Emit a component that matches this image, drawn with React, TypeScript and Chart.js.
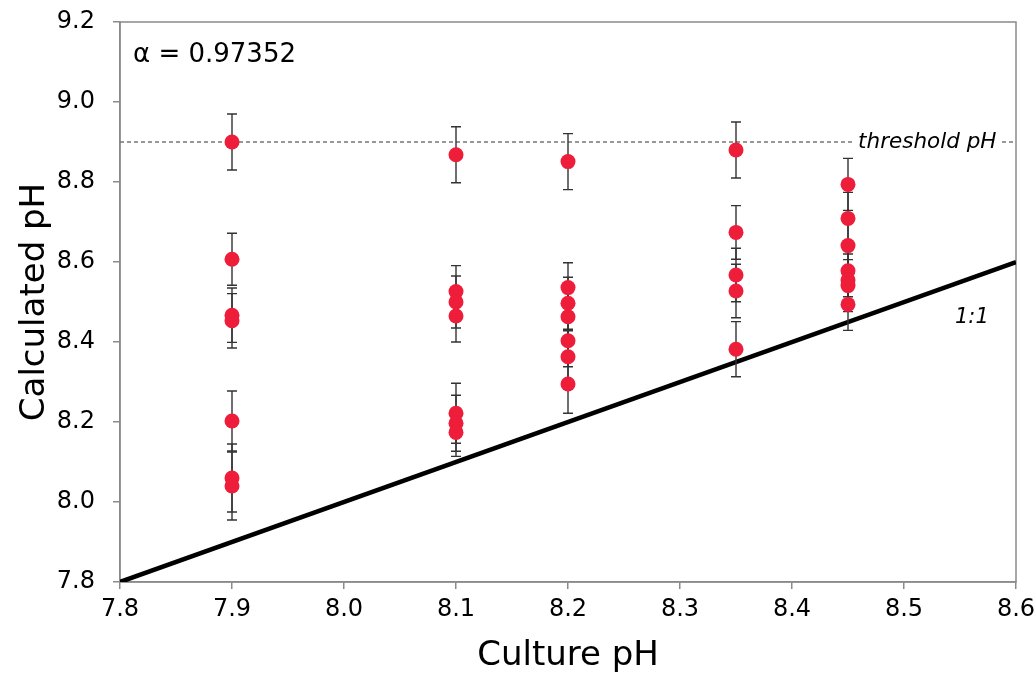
import React, { useEffect, useRef } from "react";
import { Chart, registerables } from "chart.js";

Chart.register(...registerables);

// Culture pH groups (x) and calculated pH values (y) with error (±)
const calc79 = [8.9, 8.607, 8.467, 8.453, 8.2025, 8.06, 8.04];
const err79 = [0.07, 0.065, 0.068, 0.068, 0.075, 0.085, 0.085];
const calc81 = [8.868, 8.526, 8.5, 8.465, 8.222, 8.197, 8.174];
const err81 = [0.07, 0.065, 0.065, 0.065, 0.075, 0.07, 0.06];
const calc82 = [8.851, 8.536, 8.497, 8.463, 8.403, 8.363, 8.295];
const err82 = [0.07, 0.062, 0.065, 0.065, 0.065, 0.065, 0.073];
const calc835 = [8.88, 8.674, 8.5675, 8.5275, 8.382];
const err835 = [0.07, 0.067, 0.067, 0.067, 0.069];
const calc845 = [8.794, 8.709, 8.641, 8.578, 8.555, 8.541, 8.494];
const err845 = [0.065, 0.065, 0.065, 0.065, 0.065, 0.065, 0.065];

const cultureGroups = [7.9, 8.1, 8.2, 8.35, 8.45];
const calcGroups = [calc79, calc81, calc82, calc835, calc845];
const errGroups = [err79, err81, err82, err835, err845];

const xTicks = [7.8, 7.9, 8.0, 8.1, 8.2, 8.3, 8.4, 8.5, 8.6];
const yTicks = [7.8, 8.0, 8.2, 8.4, 8.6, 8.8, 9.0, 9.2];
const thresholdPH = 8.9;
const oneToOne = [
  { x: 7.8, y: 7.8 },
  { x: 8.6, y: 8.6 },
];
const alphaText = "α = 0.97352";

const FONT = "'DejaVu Sans', 'Liberation Sans', Arial, sans-serif";

export default function App() {
  const ref = useRef<HTMLCanvasElement | null>(null);

  useEffect(() => {
    if (!ref.current) return;
    const points: { x: number; y: number; e: number }[] = [];
    cultureGroups.forEach((gx, gi) => {
      calcGroups[gi].forEach((v, i) => points.push({ x: gx, y: v, e: errGroups[gi][i] }));
    });

    const frame = {
      id: "frame",
      beforeDatasetsDraw(chart: any) {
        const { ctx, chartArea: a } = chart;
        ctx.save();
        ctx.strokeStyle = "#8a8a8a";
        ctx.lineWidth = 1.5;
        ctx.strokeRect(a.left, a.top, a.right - a.left, a.bottom - a.top);
        ctx.restore();
      },
      beforeDatasetDraw(chart: any, args: any) {
        if (args.index !== 0) return;
        const { ctx } = chart;
        const xs = chart.scales.x;
        const ys = chart.scales.y;
        ctx.save();
        ctx.strokeStyle = "#333";
        ctx.lineWidth = 1.4;
        points.forEach((p) => {
          const px = xs.getPixelForValue(p.x);
          const t = ys.getPixelForValue(p.y + p.e);
          const b = ys.getPixelForValue(p.y - p.e);
          ctx.beginPath();
          ctx.moveTo(px, t);
          ctx.lineTo(px, b);
          ctx.moveTo(px - 5, t);
          ctx.lineTo(px + 5, t);
          ctx.moveTo(px - 5, b);
          ctx.lineTo(px + 5, b);
          ctx.stroke();
        });
        ctx.restore();
      },
      afterDatasetsDraw(chart: any) {
        const { ctx } = chart;
        const xs = chart.scales.x;
        const ys = chart.scales.y;
        ctx.save();
        ctx.fillStyle = "#000";
        ctx.textBaseline = "middle";
        ctx.textAlign = "left";
        ctx.font = `26px ${FONT}`;
        ctx.fillText(alphaText, xs.getPixelForValue(7.8116), ys.getPixelForValue(9.1175));
        ctx.font = `italic 21.5px ${FONT}`;
        const tx = xs.getPixelForValue(8.459);
        const ty = ys.getPixelForValue(thresholdPH);
        const w = ctx.measureText("threshold pH").width;
        ctx.fillStyle = "#fff";
        ctx.fillRect(tx - 4, ty - 12, w + 8, 24);
        ctx.fillStyle = "#000";
        ctx.fillText("threshold pH", tx, ty);
        ctx.font = `italic 21px ${FONT}`;
        ctx.fillText("1:1", xs.getPixelForValue(8.5455), ys.getPixelForValue(8.46));
        ctx.restore();
      },
    };

    const chart = new Chart(ref.current, {
      type: "scatter",
      data: {
        datasets: [
          {
            label: "calc",
            data: points.map((p) => ({ x: p.x, y: p.y })),
            backgroundColor: "#ee1d3a",
            borderColor: "#ee1d3a",
            pointRadius: 7.5,
            pointBorderWidth: 0,
            order: 0,
          },
          {
            type: "line",
            label: "1:1",
            data: oneToOne,
            borderColor: "#000",
            borderWidth: 4.5,
            pointRadius: 0,
            order: 1,
          },
          {
            type: "line",
            label: "threshold",
            data: [
              { x: 7.8, y: thresholdPH },
              { x: 8.6, y: thresholdPH },
            ],
            borderColor: "#777",
            borderWidth: 1.3,
            borderDash: [4, 3],
            pointRadius: 0,
            order: 2,
          },
        ] as any,
      },
      options: {
        animation: false,
        responsive: true,
        maintainAspectRatio: false,
        layout: { padding: { top: 22, right: 20, left: 0, bottom: 0 } },
        plugins: { legend: { display: false }, tooltip: { enabled: false } },
        scales: {
          x: {
            type: "linear",
            min: 7.8,
            max: 8.6,
            afterBuildTicks: (s: any) => {
              s.ticks = xTicks.map((v) => ({ value: v }));
            },
            afterFit: (s: any) => {
              s.height = 98;
              s.paddingLeft = 0;
              s.paddingRight = 0;
            },
            ticks: {
              callback: (v: any) => Number(v).toFixed(1),
              font: { family: FONT, size: 24 },
              color: "#000",
              padding: 6,
              maxRotation: 0,
              autoSkip: false,
            },
            grid: { drawOnChartArea: false, tickLength: 7, color: "#8a8a8a", lineWidth: 1.5 },
            border: { color: "#8a8a8a", width: 1.5 },
            title: {
              display: true,
              text: "Culture pH",
              font: { family: FONT, size: 34 },
              color: "#000",
              padding: { top: 0, bottom: 3 },
            },
          },
          y: {
            type: "linear",
            min: 7.8,
            max: 9.2,
            afterBuildTicks: (s: any) => {
              s.ticks = yTicks.map((v) => ({ value: v }));
            },
            afterFit: (s: any) => {
              s.width = 120;
              s.paddingTop = 0;
              s.paddingBottom = 0;
            },
            ticks: {
              callback: (v: any) => Number(v).toFixed(1),
              font: { family: FONT, size: 24 },
              color: "#000",
              padding: 18,
              autoSkip: false,
            },
            grid: { drawOnChartArea: false, tickLength: 7, color: "#8a8a8a", lineWidth: 1.5 },
            border: { color: "#8a8a8a", width: 1.5 },
            title: {
              display: true,
              text: "Calculated pH",
              font: { family: FONT, size: 34 },
              color: "#000",
              padding: { top: 15, bottom: 0 },
            },
          },
        },
      },
      plugins: [frame],
    } as any);
    return () => chart.destroy();
  }, []);

  return (
    <div style={{ position: "absolute", left: 0, top: 0, width: 1036, height: 680, background: "#fff" }}>
      <canvas ref={ref} />
    </div>
  );
}
